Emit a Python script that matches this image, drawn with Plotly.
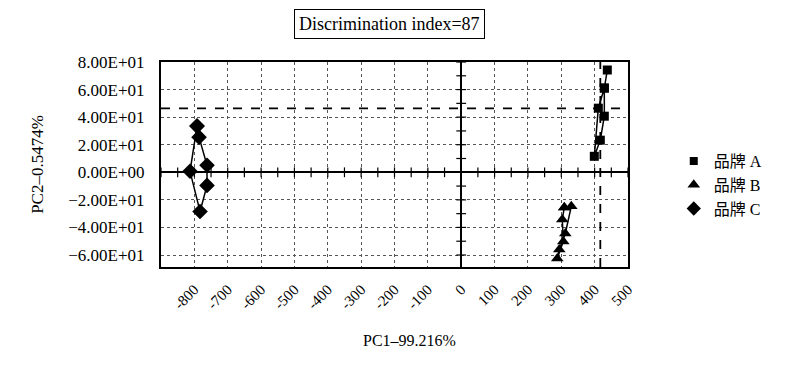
import plotly.graph_objects as go

# ---- data ----
brand_a_x = [438, 429, 411, 399, 417, 429]
brand_a_y = [74.2, 61.1, 46.5, 11.6, 23.3, 40.7]
brand_b_x = [309, 330, 312, 294, 288, 306, 303]
brand_b_y = [-25.5, -24.7, -44.4, -56.0, -62.5, -50.2, -34.2]
brand_c_x = [-792, -786, -762, -762, -783, -813]
brand_c_y = [33.5, 25.5, 5.1, -9.5, -28.4, 0.7]
series_names = ["品牌 A", "品牌 B", "品牌 C"]

x_tick_vals = [-800, -700, -600, -500, -400, -300, -200, -100, 0, 100, 200, 300, 400, 500]
x_tick_text = ["-800", "-700", "-600", "-500", "-400", "-300", "-200", "-100",
               "0", "100", "200", "300", "400", "500"]
y_tick_vals = [80, 60, 40, 20, 0, -20, -40, -60]
y_tick_text = ["8.00E+01", "6.00E+01", "4.00E+01", "2.00E+01", "0.00E+00",
               "\u22122.00E+01", "\u22124.00E+01", "\u22126.00E+01"]
ref_x = 417      # vertical dashed reference line
ref_y = 46.3     # horizontal dashed reference line
x_range = [-900, 500]
y_range = [-68.7, 80]

SERIF = "Liberation Serif, Times New Roman, Noto Sans CJK SC, serif"

fig = go.Figure()


def closed(xs, ys, back_to=0):
    return xs + [xs[back_to]], ys + [ys[back_to]]


ax, ay = closed(brand_a_x, brand_a_y, 1)
bx, by = closed(brand_b_x, brand_b_y, 0)
cx, cy = closed(brand_c_x, brand_c_y, 0)

symbols = ["square", "triangle-up", "diamond"]
sizes = [9, 11, 12]
for xs, ys, sym, sz in zip([ax, bx, cx], [ay, by, cy], symbols, sizes):
    fig.add_trace(go.Scatter(x=xs, y=ys, mode="lines+markers", showlegend=False,
                             line=dict(color="black", width=1.5),
                             marker=dict(symbol=sym, size=sz, color="black")))
# legend entries (marker only, as in the original)
for name, sym, sz in zip(series_names, symbols, [8, 11, 11]):
    fig.add_trace(go.Scatter(x=[None], y=[None], mode="markers", name=name,
                             marker=dict(symbol=sym, size=sz, color="black")))

# tick marks along the zero lines
minor_x = list(range(-900, 501, 50))
minor_y = list(range(-60, 81, 10))
fig.add_trace(go.Scatter(x=minor_x, y=[0] * len(minor_x), mode="markers",
                         marker=dict(symbol="line-ns", size=7,
                                     line=dict(color="black", width=1.2)),
                         showlegend=False, hoverinfo="skip"))
fig.add_trace(go.Scatter(x=[0] * len(minor_y), y=minor_y, mode="markers",
                         marker=dict(symbol="line-ew", size=7,
                                     line=dict(color="black", width=1.2)),
                         showlegend=False, hoverinfo="skip"))

# dashed reference lines
fig.add_shape(type="line", xref="x", yref="paper", x0=ref_x, x1=ref_x, y0=0, y1=1,
              line=dict(color="black", width=1.8, dash="dash"))
fig.add_shape(type="line", xref="paper", yref="y", x0=0, x1=1, y0=ref_y, y1=ref_y,
              line=dict(color="black", width=1.8, dash="dash"))

fig.add_annotation(text="Discrimination index=87", xref="paper", yref="paper",
                   x=0.49, y=1.0, yshift=38, xanchor="center", yanchor="middle",
                   showarrow=False, font=dict(family=SERIF, size=18, color="black"),
                   bordercolor="black", borderwidth=1, borderpad=4, bgcolor="white")

# x-axis title (sits slightly right of the plot centre in the original)
fig.add_annotation(text="PC1\u201399.216%", xref="paper", yref="paper",
                   x=0.533, y=0, yshift=-73, xanchor="center", yanchor="middle",
                   showarrow=False, font=dict(family=SERIF, size=16, color="black"))

fig.update_xaxes(range=x_range, tickvals=x_tick_vals, ticktext=x_tick_text,
                 tickangle=-45, automargin=False,
                 showgrid=True, gridcolor="#555", griddash="dot", gridwidth=1,
                 zeroline=True, zerolinecolor="black", zerolinewidth=1.5,
                 showline=True, linecolor="black", linewidth=2, mirror=True,
                 ticks="", ticklabelstandoff=6,
                 tickfont=dict(family=SERIF, size=15, color="black"))
fig.update_yaxes(range=y_range, tickvals=y_tick_vals, ticktext=y_tick_text,
                 automargin=False,
                 showgrid=True, gridcolor="#555", griddash="dot", gridwidth=1,
                 zeroline=True, zerolinecolor="black", zerolinewidth=1.5,
                 showline=True, linecolor="black", linewidth=2, mirror=True,
                 ticks="", ticklabelstandoff=11,
                 tickfont=dict(family=SERIF, size=17, color="black"),
                 title=dict(text="PC2\u20130.5474%", standoff=20,
                            font=dict(family=SERIF, size=17, color="black")))

# the page body adds an 8px offset, so the figure is 8px smaller and the
# left/top margins are reduced to keep the plot area in place
fig.update_layout(width=792, height=375,
                  margin=dict(l=153, r=172, t=54, b=116),
                  paper_bgcolor="white", plot_bgcolor="white",
                  showlegend=True,
                  legend=dict(x=1.098, y=0.40, xanchor="left", yanchor="middle",
                              font=dict(family=SERIF, size=16, color="black"),
                              itemwidth=30, tracegroupgap=0, bgcolor="rgba(0,0,0,0)"))

fig.write_html("out.html")
